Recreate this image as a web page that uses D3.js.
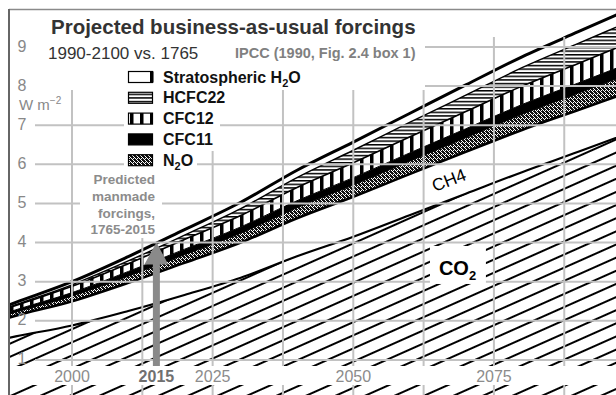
<!DOCTYPE html>
<html><head><meta charset="utf-8">
<script src="https://cdn.jsdelivr.net/npm/d3@7"></script>
<style>
html,body{margin:0;padding:0;background:#fff;}
svg{display:block;font-family:Arial,"Liberation Sans",sans-serif;}
</style></head><body>
<svg id="chart" width="616" height="395"></svg>
<script>
// Projected business-as-usual radiative forcings (W m-2 relative to 1765)
const years    = [1985, 1990, 2000, 2010, 2020, 2030, 2040, 2050, 2060, 2070, 2080, 2090, 2100];
const co2      = [1.45, 1.60, 1.88, 2.25, 2.66, 3.10, 3.65, 4.15, 4.70, 5.25, 5.80, 6.32, 6.85];
const ch4      = [0.48, 0.53, 0.62, 0.72, 0.82, 0.90, 0.97, 1.02, 1.05, 1.07, 1.08, 1.07, 1.05];
const n2o      = [0.07, 0.09, 0.13, 0.17, 0.21, 0.24, 0.27, 0.30, 0.33, 0.36, 0.40, 0.43, 0.46];
const cfc11    = [0.05, 0.06, 0.09, 0.12, 0.14, 0.16, 0.18, 0.19, 0.21, 0.23, 0.25, 0.26, 0.28];
const cfc12    = [0.09, 0.11, 0.16, 0.20, 0.25, 0.29, 0.34, 0.38, 0.41, 0.44, 0.47, 0.50, 0.52];
const hcfc22   = [0.01, 0.02, 0.04, 0.07, 0.11, 0.18, 0.25, 0.32, 0.37, 0.42, 0.47, 0.51, 0.55];
const stratH2O = [0.05, 0.06, 0.08, 0.11, 0.14, 0.16, 0.19, 0.21, 0.23, 0.26, 0.28, 0.30, 0.31];

const seriesKeys = ["CO2", "CH4", "N2O", "CFC11", "CFC12", "HCFC22", "StratH2O"];
const legendKeys = ["StratH2O", "HCFC22", "CFC12", "CFC11", "N2O"];
const gridYears  = [2000, 2012.5, 2025, 2037.5, 2050, 2062.5, 2075, 2087.5];
const yearLabels = [2000, 2015, 2025, 2050, 2075];
const valueTicks = [1, 2, 3, 4, 5, 6, 7, 8, 9];
const markedYear = 2015;
const markedValue = 4.0;
const noteLines = ["Predicted", "manmade", "forcings,", "1765-2015"];

const rows = years.map((yr, i) => ({
  year: yr, CO2: co2[i], CH4: ch4[i], N2O: n2o[i], CFC11: cfc11[i],
  CFC12: cfc12[i], HCFC22: hcfc22[i], StratH2O: stratH2O[i]
}));

const svg = d3.select("#chart");
const W = 616, H = 395;
const x = d3.scaleLinear().domain([1988.8, 2096.7]).range([9, 616]);
const y = d3.scaleLinear().domain([0, 9]).range([399, 47]);

svg.append("rect").attr("width", W).attr("height", H).attr("fill", "#fff");

// ---- fill patterns ----
const defs = svg.append("defs");
const hatch = defs.append("pattern").attr("id", "hatchCO2")
  .attr("patternUnits", "userSpaceOnUse").attr("width", 40).attr("height", 12)
  .attr("patternTransform", "rotate(-24)");
hatch.append("rect").attr("width", 40).attr("height", 12).attr("fill", "#fff");
hatch.append("line").attr("x1", 0).attr("x2", 40).attr("y1", 6).attr("y2", 6)
  .attr("stroke", "#000").attr("stroke-width", 2.1);

const stip = defs.append("pattern").attr("id", "stipple")
  .attr("patternUnits", "userSpaceOnUse").attr("width", 4).attr("height", 4);
stip.append("rect").attr("width", 4).attr("height", 4).attr("fill", "#fff");
[[0,0],[2,0],[3,0],[1,1],[3,1],[0,1],[2,2],[0,2],[1,3],[3,3],[2,3]].forEach(([a, b]) =>
  stip.append("rect").attr("x", a).attr("y", b).attr("width", 1).attr("height", 1).attr("fill", "#111"));

const bars = defs.append("pattern").attr("id", "vbars")
  .attr("patternUnits", "userSpaceOnUse").attr("width", 10).attr("height", 10);
bars.append("rect").attr("width", 10).attr("height", 10).attr("fill", "#fff");
bars.append("rect").attr("width", 3.5).attr("height", 10).attr("fill", "#000");

const hl = defs.append("pattern").attr("id", "hlines")
  .attr("patternUnits", "userSpaceOnUse").attr("width", 10).attr("height", 3.6);
hl.append("rect").attr("width", 10).attr("height", 3.6).attr("fill", "#fff");
hl.append("rect").attr("width", 10).attr("height", 1.5).attr("fill", "#000");

const fills = {
  CO2: "url(#hatchCO2)", CH4: "#fff", N2O: "url(#stipple)", CFC11: "#000",
  CFC12: "url(#vbars)", HCFC22: "url(#hlines)", StratH2O: "#fff"
};
const edgeWidth = { CO2: 2.2, CH4: 2.6, N2O: 1, CFC11: 1, CFC12: 1.6, HCFC22: 1.4, StratH2O: 3 };

defs.append("clipPath").attr("id", "plotClip")
  .append("rect").attr("x", 10).attr("y", 10).attr("width", W - 10).attr("height", H - 10);

// ---- stacked areas ----
const stacked = d3.stack().keys(seriesKeys)(rows);
const area = d3.area().x(d => x(d.data.year)).y0(d => y(d[0])).y1(d => y(d[1]))
  .curve(d3.curveMonotoneX);
const edge = d3.line().x(d => x(d.data.year)).y(d => y(d[1])).curve(d3.curveMonotoneX);

const plot = svg.append("g").attr("clip-path", "url(#plotClip)");
plot.selectAll("path.layer").data(stacked).join("path").attr("class", "layer")
  .attr("d", area).attr("fill", s => fills[s.key]);
plot.selectAll("path.edge").data(stacked).join("path").attr("class", "edge")
  .attr("d", edge).attr("fill", "none").attr("stroke", "#000")
  .attr("stroke-width", s => edgeWidth[s.key]).attr("stroke-linejoin", "round");

// ---- grid ----
const grid = svg.append("g").attr("stroke", "#c2c2c2").attr("stroke-width", 2);
grid.selectAll("line.v").data(gridYears).join("line").attr("class", "v")
  .attr("x1", d => x(d)).attr("x2", d => x(d)).attr("y1", 37).attr("y2", H);
grid.selectAll("line.h").data(valueTicks).join("line").attr("class", "h")
  .attr("x1", 35).attr("x2", W).attr("y1", d => y(d)).attr("y2", d => y(d));

// ---- white panels behind text ----
const panels = [
  [9, 10, 416, 80],      // title block
  [124, 90, 96, 61],     // legend upper
  [124, 151, 73, 20],    // legend lower
  [80, 170, 82, 68],     // note
  [10, 366, W - 10, 19], // year labels
];
svg.append("g").selectAll("rect").data(panels).join("rect")
  .attr("x", d => d[0]).attr("y", d => d[1]).attr("width", d => d[2]).attr("height", d => d[3])
  .attr("fill", "#fff");

// frame
svg.append("line").attr("x1", 9).attr("x2", W).attr("y1", 9.5).attr("y2", 9.5)
  .attr("stroke", "#8a8a8a").attr("stroke-width", 1.5);
svg.append("line").attr("x1", 9).attr("x2", 9).attr("y1", 9).attr("y2", H)
  .attr("stroke", "#666").attr("stroke-width", 2);

// ---- title ----
svg.append("text").attr("x", 51).attr("y", 34).attr("font-size", 20.5).attr("font-weight", "bold")
  .attr("fill", "#333").text("Projected business-as-usual forcings");
svg.append("text").attr("x", 48).attr("y", 59).attr("font-size", 17)
  .attr("fill", "#333").text("1990-2100 vs. 1765");
svg.append("text").attr("x", 235).attr("y", 58).attr("font-size", 14.5).attr("font-weight", "bold")
  .attr("fill", "#808080").text("IPCC (1990, Fig. 2.4 box 1)");

// ---- value labels ----
svg.append("g").selectAll("text").data(valueTicks).join("text")
  .attr("x", 22).attr("y", d => y(d) - 1).attr("dy", "0.35em").attr("text-anchor", "middle")
  .attr("font-size", 16).attr("fill", "#888").text(d => d);
const unit = svg.append("text").attr("x", 19).attr("y", 110).attr("font-size", 15).attr("fill", "#888");
unit.append("tspan").text("W m");
unit.append("tspan").attr("dy", -6).attr("font-size", 10).text("\u22122");

// ---- year labels ----
svg.append("g").selectAll("text").data(yearLabels).join("text")
  .attr("x", d => x(d)).attr("y", 382).attr("text-anchor", "middle")
  .attr("font-size", 16).attr("fill", d => d === markedYear ? "#707070" : "#8c8c8c")
  .attr("font-weight", d => d === markedYear ? "bold" : "normal").text(d => d);

// ---- legend ----
const legendLabel = {
  StratH2O: ["Stratospheric H", "2", "O"], HCFC22: ["HCFC22"], CFC12: ["CFC12"],
  CFC11: ["CFC11"], N2O: ["N", "2", "O"]
};
const lg = svg.append("g");
legendKeys.forEach((k, i) => {
  const cy = 77 + i * 20.8;
  lg.append("rect").attr("x", 128.5).attr("y", cy - 5.5).attr("width", 24).attr("height", 11)
    .attr("fill", fills[k]).attr("stroke", "#000").attr("stroke-width", 1.2);
  if (k === "StratH2O") {
    lg.append("rect").attr("x", 150).attr("y", cy - 5.5).attr("width", 3.5).attr("height", 11).attr("fill", "#000");
  }
  const t = lg.append("text").attr("x", 163).attr("y", cy + 5.5).attr("font-size", 16)
    .attr("font-weight", "bold").attr("fill", "#111");
  const parts = legendLabel[k];
  t.append("tspan").text(parts[0]);
  if (parts.length > 1) {
    t.append("tspan").attr("dy", 4).attr("font-size", 11).text(parts[1]);
    t.append("tspan").attr("dy", -4).text(parts[2]);
  }
});

// ---- note and arrow ----
svg.append("g").selectAll("text").data(noteLines).join("text")
  .attr("x", 155).attr("y", (d, i) => 184 + i * 16.8).attr("text-anchor", "end")
  .attr("font-size", 13.5).attr("font-weight", "bold").attr("fill", "#8c8c8c").text(d => d);

const ax = x(markedYear), tipY = y(markedValue), baseY = 366;
const arrowPath = d3.path();
arrowPath.moveTo(ax, tipY);
arrowPath.lineTo(ax + 12, tipY + 22);
arrowPath.lineTo(ax + 3.5, tipY + 22);
arrowPath.lineTo(ax + 3.5, baseY);
arrowPath.lineTo(ax - 3.5, baseY);
arrowPath.lineTo(ax - 3.5, tipY + 22);
arrowPath.lineTo(ax - 12, tipY + 22);
arrowPath.closePath();
svg.append("path").attr("d", arrowPath.toString()).attr("fill", "#8a8a8a");

// ---- in-chart labels ----
const co2x = x(2068.6), co2y = y(3.35);
svg.append("rect").attr("x", co2x - 28).attr("y", co2y - 22).attr("width", 56).attr("height", 38).attr("fill", "#fff");
const co2t = svg.append("text").attr("x", co2x - 19).attr("y", co2y + 7).attr("font-size", 20)
  .attr("font-weight", "bold").attr("fill", "#000");
co2t.append("tspan").text("CO");
co2t.append("tspan").attr("dy", 5).attr("font-size", 13).text("2");

svg.append("text").attr("transform", `translate(${x(2067)},${y(5.6)}) rotate(-21)`)
  .attr("text-anchor", "middle").attr("dy", "0.35em").attr("font-size", 17.5)
  .attr("fill", "#000").text("CH4");
</script>
</body></html>
